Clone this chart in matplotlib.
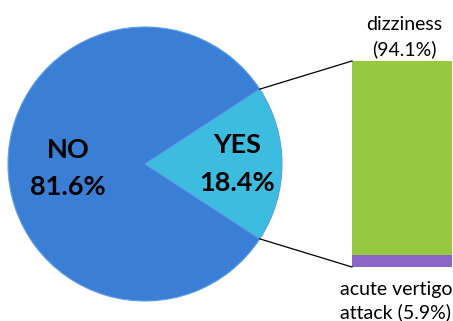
import numpy as np
import matplotlib
matplotlib.use("Agg")
import matplotlib.pyplot as plt

# data
pie_labels = ["YES", "NO"]
pie_pcts = ["18.4%", "81.6%"]
pie_values = [18.4, 81.6]
bar_labels = [["acute vertigo", "attack (5.9%)"], ["dizziness", "(94.1%)"]]
bar_values = [5.9, 94.1]

pie_colors = ["#3cbde0", "#3a7ed6"]
bar_colors = ["#8a66c6", "#96c940"]

W, H = 453, 321
fig = plt.figure(figsize=(W / 100, H / 100), dpi=100)
ax = fig.add_axes([0, 0, 1, 1])

cx, cy, r = 145, 157, 137
half = pie_values[0] * 3.6 / 2
ax.pie(pie_values, colors=pie_colors, startangle=-half, counterclock=True,
       center=(cx, cy), radius=r,
       wedgeprops=dict(edgecolor="#5aa0e8", linewidth=0.8))
ax.set_xlim(0, W)
ax.set_ylim(0, H)
ax.set_aspect("equal")
ax.axis("off")

font = "Lato"
big = 19.5
ax.text(68, H - 150, pie_labels[1], ha="center", va="center", fontsize=big,
        fontweight="bold", family=font)
ax.text(68, H - 187, pie_pcts[1], ha="center", va="center", fontsize=big,
        fontweight="bold", family=font)
ax.text(237, H - 145, pie_labels[0], ha="center", va="center", fontsize=big,
        fontweight="bold", family=font)
ax.text(237, H - 183, pie_pcts[0], ha="center", va="center", fontsize=big,
        fontweight="bold", family=font)

# bar of pie
bx, bw = 402, 100
btop, bbot = H - 61, H - 267
scale = (btop - bbot) / sum(bar_values)
bottom = bbot
for v, c in zip(bar_values, bar_colors):
    ax.bar(bx, v * scale, width=bw, bottom=bottom, color=c,
           edgecolor=c, linewidth=0)
    bottom += v * scale

# connector lines
a = np.deg2rad(half)
ax.plot([cx + r * np.cos(a), bx - bw / 2], [cy + r * np.sin(a), btop],
        color="black", lw=0.9)
ax.plot([cx + r * np.cos(-a), bx - bw / 2], [cy + r * np.sin(-a), bbot],
        color="black", lw=0.9)

small = 14
ax.text(404, H - 24, bar_labels[1][0], ha="center", va="center",
        fontsize=small, family=font)
ax.text(404, H - 49, bar_labels[1][1], ha="center", va="center",
        fontsize=small, family=font)
ax.text(396, H - 290, bar_labels[0][0], ha="center", va="center",
        fontsize=small, family=font)
ax.text(396, H - 312, bar_labels[0][1], ha="center", va="center",
        fontsize=small, family=font)

fig.savefig("out.png", dpi=100)
